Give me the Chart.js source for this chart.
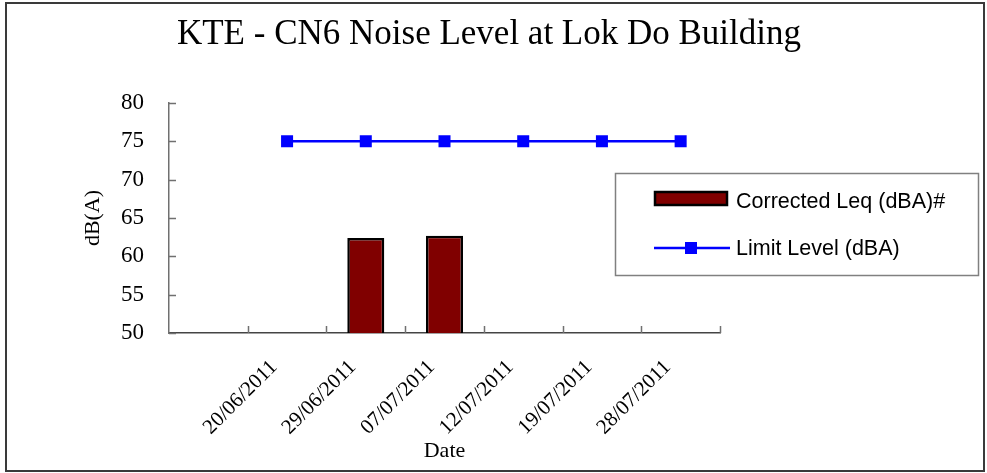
<!DOCTYPE html>
<html><head><meta charset="utf-8">
<script src="https://cdn.jsdelivr.net/npm/chart.js@4.4.1/dist/chart.umd.min.js"></script>
<style>html,body{margin:0;padding:0;background:#fff;overflow:hidden}#wrap{width:987px;height:473px;position:relative}</style>
</head><body><div id="wrap"><canvas id="c" width="987" height="473"></canvas></div>
<script>
const categories = ["", "20/06/2011", "29/06/2011", "07/07/2011", "12/07/2011", "19/07/2011", "28/07/2011"];
const correctedLeq = [null, null, 62.4, 62.7, null, null, null];
const limitLevel = [null, 75, 75, 75, 75, 75, 75];
const yMin = 50, yMax = 80, yStep = 5;
const chartTitle = "KTE - CN6 Noise Level at Lok Do Building";
const yTitle = "dB(A)";
const xTitle = "Date";
const seriesNames = ["Corrected Leq (dBA)#", "Limit Level (dBA)"];

const SERIF = "'Liberation Serif', 'Times New Roman', serif";
const SANS = "'Liberation Sans', Arial, sans-serif";

const framePlugin = {
  id: 'frame',
  beforeDraw(chart) {
    const ctx = chart.ctx;
    ctx.save();
    ctx.fillStyle = '#fff';
    ctx.fillRect(0, 0, chart.width, chart.height);
    ctx.restore();
  },
  afterDraw(chart) {
    const ctx = chart.ctx;
    ctx.save();
    ctx.strokeStyle = '#3a3a3a';
    ctx.lineWidth = 2;
    ctx.strokeRect(6, 3, 978, 468);
    ctx.fillStyle = '#000';
    ctx.font = "35px " + SERIF;
    ctx.textAlign = 'center';
    ctx.textBaseline = 'middle';
    ctx.fillText(chartTitle, 489, 35);
    ctx.restore();
  }
};

const innerTicksPlugin = {
  id: 'innerTicks',
  afterDraw(chart) {
    const ctx = chart.ctx;
    const x = chart.scales.x, y = chart.scales.y;
    ctx.save();
    ctx.strokeStyle = '#707070';
    ctx.lineWidth = 1.5;
    ctx.beginPath();
    y.ticks.forEach((t) => {
      const py = Math.round(y.getPixelForValue(t.value)) + 0.5;
      ctx.moveTo(x.left, py);
      ctx.lineTo(x.left + 7, py);
    });
    const n = chart.data.labels.length;
    const w = x.getPixelForValue(1) - x.getPixelForValue(0);
    for (let i = 0; i < n; i++) {
      const px = Math.round(x.getPixelForValue(i) + w / 2) + 0.5;
      ctx.moveTo(px, y.bottom);
      ctx.lineTo(px, y.bottom - 7);
    }
    ctx.stroke();
    ctx.restore();
  }
};

const legendPlugin = {
  id: 'customLegend',
  afterDraw(chart) {
    const ctx = chart.ctx;
    const ds = chart.data.datasets;
    const barDs = ds.find(d => d.type === 'bar');
    const lineDs = ds.find(d => d.type === 'line');
    ctx.save();
    ctx.strokeStyle = '#808080';
    ctx.lineWidth = 1.5;
    ctx.strokeRect(615.5, 173.5, 363, 102);
    ctx.font = "21.5px " + SANS;
    ctx.textBaseline = 'middle';
    ctx.textAlign = 'left';
    ctx.fillStyle = barDs.backgroundColor;
    ctx.fillRect(655, 192, 72, 13);
    ctx.strokeStyle = barDs.borderColor;
    ctx.lineWidth = 2.5;
    ctx.strokeRect(655, 192, 72, 13);
    ctx.fillStyle = '#000';
    ctx.fillText(barDs.label, 736, 202);
    ctx.strokeStyle = lineDs.borderColor;
    ctx.lineWidth = 2.5;
    ctx.beginPath();
    ctx.moveTo(654, 248);
    ctx.lineTo(730, 248);
    ctx.stroke();
    ctx.fillStyle = lineDs.borderColor;
    ctx.fillRect(685, 242, 12, 12);
    ctx.fillStyle = '#000';
    ctx.fillText(lineDs.label, 736, 249);
    ctx.restore();
  }
};

new Chart(document.getElementById('c'), {
  data: {
    labels: categories,
    datasets: [
      {
        type: 'line',
        label: seriesNames[1],
        data: limitLevel,
        borderColor: '#0000FF',
        backgroundColor: '#0000FF',
        borderWidth: 2.5,
        pointStyle: 'rect',
        pointRadius: 8.5,
        pointBackgroundColor: '#0000FF',
        pointBorderColor: '#0000FF',
        pointBorderWidth: 0,
        spanGaps: false,
        order: 1
      },
      {
        type: 'bar',
        label: seriesNames[0],
        data: correctedLeq,
        backgroundColor: '#800000',
        borderColor: '#000000',
        borderWidth: 2.5,
        barPercentage: 0.47,
        categoryPercentage: 1,
        order: 2
      }
    ]
  },
  options: {
    responsive: false,
    animation: false,
    devicePixelRatio: 1,
    layout: { padding: { left: 6, right: 267, top: 103, bottom: 6 } },
    plugins: {
      legend: { display: false },
      tooltip: { enabled: false },
      title: { display: false }
    },
    scales: {
      x: {
        type: 'category',
        offset: true,
        grid: { display: false, drawTicks: false },
        border: { display: true, color: '#444', width: 1.5 },
        ticks: {
          color: '#000',
          font: { family: SERIF, size: 21 },
          minRotation: 45,
          maxRotation: 45,
          autoSkip: false,
          padding: 22,
          labelOffset: -13
        },
        title: {
          display: true,
          text: xTitle,
          color: '#000',
          font: { family: SERIF, size: 22 },
          padding: { top: 0, bottom: 3 }
        },
        afterFit(s) { s.height = 134; }
      },
      y: {
        type: 'linear',
        min: yMin,
        max: yMax,
        grid: { display: false, drawTicks: false },
        border: { display: true, color: '#707070', width: 1.5 },
        ticks: {
          stepSize: yStep,
          color: '#000',
          font: { family: SERIF, size: 23 },
          padding: 25
        },
        title: {
          display: true,
          text: yTitle,
          color: '#000',
          font: { family: SERIF, size: 22 },
          padding: { top: 74, bottom: 0 }
        },
        afterFit(s) { s.width = 163; }
      }
    }
  },
  plugins: [framePlugin, innerTicksPlugin, legendPlugin]
});
</script>
</body></html>
